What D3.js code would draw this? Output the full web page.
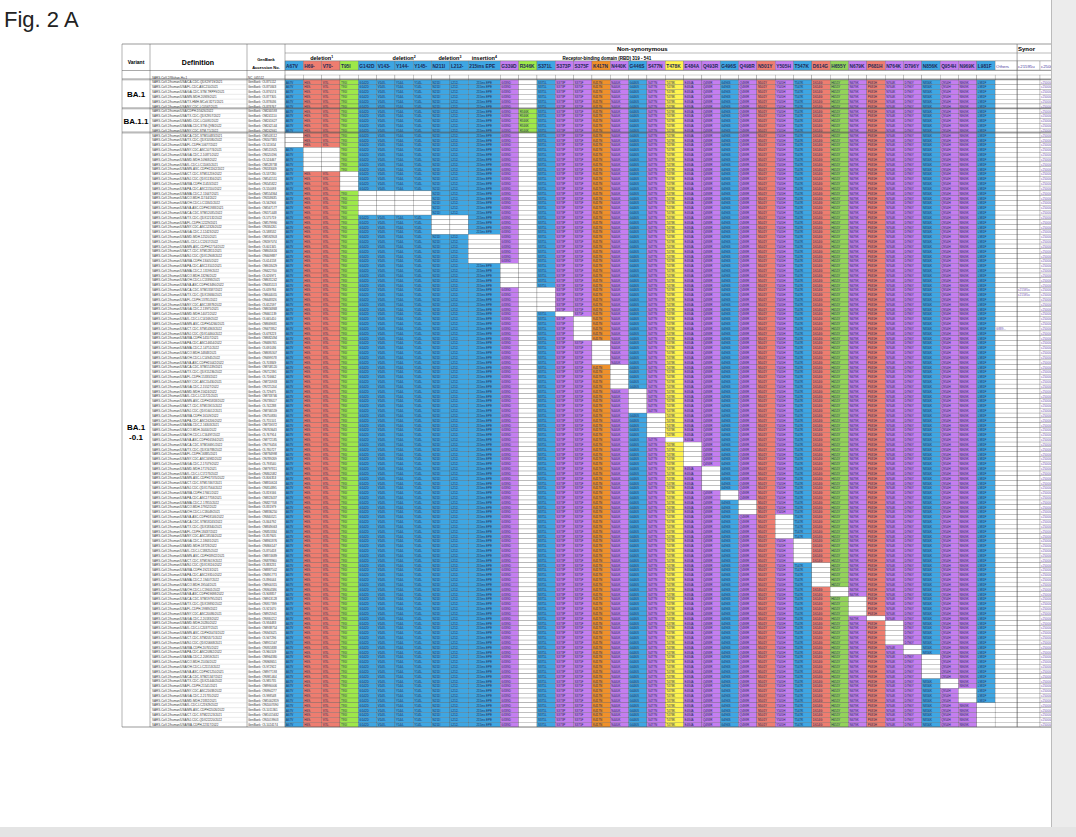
<!DOCTYPE html>
<html>
<head>
<meta charset="utf-8">
<script src="https://cdn.jsdelivr.net/npm/d3@7"></script>
<style>
  body { margin: 0; background: #fff; font-family: "Liberation Sans", Arial, sans-serif; }
</style>
</head>
<body>
<script>
const W = 1076, H = 837;

// mutation columns: name, header colour, width in units
const cols = [
  ["A67V", "#3ea6e3", 1], ["H69-", "#ee7d70", 1], ["V70-", "#ee7d70", 1], ["T95I", "#9ee84a", 1],
  ["G142D", "#3ea6e3", 1], ["V143-", "#3ea6e3", 1], ["Y144-", "#3ea6e3", 1], ["Y145-", "#3ea6e3", 1],
  ["N211I", "#3ea6e3", 1], ["L212-", "#3ea6e3", 1], ["215ins EPE", "#3ea6e3", 1.75],
  ["G339D", "#c47ef0", 1], ["R346K", "#9ee84a", 1], ["S371L", "#3ea6e3", 1], ["S373P", "#c47ef0", 1],
  ["S375F", "#c47ef0", 1], ["K417N", "#f0902a", 1], ["N440K", "#c47ef0", 1], ["G446S", "#3ea6e3", 1],
  ["S477N", "#c47ef0", 1], ["T478K", "#fff34f", 1], ["E484A", "#c47ef0", 1], ["Q493R", "#c47ef0", 1],
  ["G496S", "#3ea6e3", 1], ["Q498R", "#c47ef0", 1], ["N501Y", "#ee7d70", 1], ["Y505H", "#c47ef0", 1],
  ["T547K", "#3ea6e3", 1], ["D614G", "#ee7d70", 1], ["H655Y", "#93d35a", 1], ["N679K", "#c47ef0", 1],
  ["P681H", "#ee7d70", 1], ["N764K", "#c47ef0", 1], ["D796Y", "#c47ef0", 1], ["N856K", "#3ea6e3", 1],
  ["Q954H", "#c47ef0", 1], ["N969K", "#c47ef0", 1], ["L981F", "#3ea6e3", 1],
  ["Others", "#fff", 1.2], ["c21595u", "#fff", 1.25], ["c25000c", "#fff", 1.25]
];
const nMut = 38;

// staircase of missing mutations in BA.1-0.1 rows: [columns missing, number of rows]
const gaps = [
  [["A67V"], 3], [["H69-", "V70-"], 5], [["T95I"], 4], [["G142D", "V143-", "Y144-", "Y145-"], 5],
  [["N211I", "L212-"], 4], [["215ins EPE"], 6], [["G339D"], 5], [["S371L"], 5], [["S373P"], 1],
  [["S375F"], 5], [["K417N"], 5], [["N440K"], 5], [["G446S"], 5], [["S477N"], 5], [["T478K"], 1],
  [["E484A"], 5], [["Q493R"], 5], [["G496S"], 2], [["Q498R"], 3], [["Y505H"], 5], [["T547K"], 5],
  [["D614G"], 5], [["H655Y"], 2], [["N679K"], 4], [["P681H"], 1], [["N764K"], 5], [["D796Y"], 2],
  [["N856K"], 5], [["Q954H"], 2], [["N969K"], 3], [["L981F"], 5]
];

const states = ["CA", "TX", "FL", "NY", "GA", "MD", "IL", "MN", "CT", "NJ", "WA", "PA", "MA", "CO", "OH", "VA"];
const labs = ["CDC-STM", "CDC-ASC", "CDC-LC", "CDC-QDX", "CDC-2-", "ASC-CDPH", "CDPH-", "MDH-"];

const rows = [];
rows.push({ group: "ref", def: "SARS-CoV-2/Wuhan-Hu-1", acc: "NC_045512", miss: cols.slice(0, nMut).map(c => c[0]) });
const ba1 = ["CA-CDC-QDX29719", "FL-CDC-ASC210", "GA-CDC-STM-TRPF9", "MN-MDH-20939", "TX-HMH-MCoV-8271", "NY-CDC-LC0567"];
ba1.forEach((s, i) => rows.push({ group: "BA.1", def: "SARS-CoV-2/human/USA/" + s + "/2021", acc: "GenBank: OL8" + (75112 + i * 731), miss: ["R346K"] }));
const ba11 = ["CDPH-D5626", "TX-CDC-QDX2957", "MD-CDC-LC0091", "MA-CDC-STM-QVB", "NY-CDC-STM-T1"];
ba11.forEach((s, i) => rows.push({ group: "BA.1.1", def: "SARS-CoV-2/human/USA/" + s + "/2022", acc: "GenBank: OM2" + (40593 + i * 517), miss: [] }));
let k = 0;
gaps.forEach(([m, n]) => {
  for (let j = 0; j < n; j++, k++) {
    const st = states[k % states.length], lb = labs[(k * 3) % labs.length];
    rows.push({
      group: "BA.1-0.1",
      def: "SARS-CoV-2/human/USA/" + st + "-" + lb + (10483 + k * 97) + "/202" + (k % 3 === 0 ? 1 : 2),
      acc: "GenBank: O" + ["M", "N", "L"][k % 3] + (503112 + k * 4271),
      miss: ["R346K"].concat(m)
    });
  }
});
// extra entries seen in Others / synonymous columns
const extras = { 44: { "c21595u": "c21595u" }, 45: { "c21595u": "c21595u" }, 52: { "Others": "G889..." } };

const svg = d3.select("body").append("svg").attr("width", W).attr("height", H);

svg.append("text").attr("x", 4).attr("y", 27).attr("font-size", 22).attr("fill", "#222").text("Fig. 2 A");

svg.append("defs").append("clipPath").attr("id", "pageclip")
  .append("rect").attr("x", 0).attr("y", 0).attr("width", 1051).attr("height", H);

const g = svg.append("g").attr("clip-path", "url(#pageclip)");
const units = d3.cumsum(cols, c => c[2]);
const x = d3.scaleLinear().domain([0, 41.8]).range([285, 1051]);
const colX = c => x(units[c] - cols[c][2]);
const colW = c => x(units[c]) - x(units[c] - cols[c][2]);

const y = d3.scaleBand().domain(d3.range(rows.length)).range([75, 727]);
const rh = y.bandwidth();

// header
const hTop = 44;
g.append("line").attr("x1", 122).attr("x2", 1051).attr("y1", hTop).attr("y2", hTop).attr("stroke", "#555").attr("stroke-width", 0.6);
g.append("text").attr("x", 136).attr("y", 64).attr("text-anchor", "middle").attr("font-size", 5).attr("font-weight", "bold").text("Variant");
g.append("text").attr("x", 198).attr("y", 65).attr("text-anchor", "middle").attr("font-size", 7).attr("font-weight", "bold").text("Definition");
g.append("text").attr("x", 266).attr("y", 61).attr("text-anchor", "middle").attr("font-size", 4).attr("font-weight", "bold").text("GenBank");
g.append("text").attr("x", 266).attr("y", 69).attr("text-anchor", "middle").attr("font-size", 4).attr("font-weight", "bold").text("Accession No.");
g.append("text").attr("x", x(19.5)).attr("y", 51).attr("text-anchor", "middle").attr("font-size", 6).attr("font-weight", "bold").text("Non-synonymous");
g.append("text").attr("x", 1018).attr("y", 51).attr("font-size", 6).attr("font-weight", "bold").text("Synor");
g.append("line").attr("x1", 285).attr("x2", 1051).attr("y1", 53).attr("y2", 53).attr("stroke", "#777").attr("stroke-width", 0.5);
g.append("line").attr("x1", 285).attr("x2", 1051).attr("y1", 61).attr("y2", 61).attr("stroke", "#777").attr("stroke-width", 0.5);

const spans = [["deletion", "1", 1, 2], ["deletion", "2", 5, 7], ["deletion", "3", 8, 9], ["insertion", "4", 10, 10]];
spans.forEach(([t, sup, a, b]) => {
  const cx = (colX(a) + colX(b) + colW(b)) / 2;
  const tx = g.append("text").attr("x", cx).attr("y", 59.5).attr("text-anchor", "middle").attr("font-size", 5.5).attr("font-weight", "bold").text(t);
  tx.append("tspan").attr("font-size", 3.5).attr("dy", -2).text(sup);
});
g.append("text").attr("x", (colX(11) + colX(26) + colW(26)) / 2 - 40).attr("y", 59.5).attr("text-anchor", "middle")
  .attr("font-size", 4.5).attr("font-weight", "bold").text("Receptor-binding domain (RBD)  319 - 541");

cols.forEach((c, i) => {
  g.append("rect").attr("x", colX(i)).attr("y", 61).attr("width", colW(i)).attr("height", 9)
    .attr("fill", c[1]).attr("stroke", "#666").attr("stroke-width", 0.3);
  g.append("text").attr("x", colX(i) + 1).attr("y", 67.5).attr("font-size", i >= nMut ? 4.3 : 4.8).attr("font-weight", i >= nMut ? "normal" : "bold")
    .attr("fill", i >= nMut ? "#4a3aa0" : "#1d2a55").text(c[0]);
});

// body cells
rows.forEach((r, ri) => {
  const yy = y(ri);
  g.append("text").attr("x", 152).attr("y", yy + rh - 1.2).attr("font-size", 3).attr("fill", "#333").text(r.def);
  g.append("text").attr("x", 248).attr("y", yy + rh - 1.2).attr("font-size", 3).attr("fill", "#333").text(r.acc);
  g.append("line").attr("x1", 150).attr("x2", 1051).attr("y1", yy + rh).attr("y2", yy + rh).attr("stroke", "#bbb").attr("stroke-width", 0.3);
  cols.forEach((c, i) => {
    const name = c[0];
    let fill = "#fff", label = "";
    if (i < nMut) {
      if (!r.miss.includes(name)) { fill = c[1]; label = name; }
    } else if (name === "c25000c" && r.group !== "ref") { label = "c25000c"; }
    else if (extras[ri] && extras[ri][name]) { label = extras[ri][name]; }
    g.append("rect").attr("x", colX(i)).attr("y", yy).attr("width", colW(i)).attr("height", rh)
      .attr("fill", fill).attr("stroke", "#555").attr("stroke-width", 0.25);
    if (label) {
      g.append("text").attr("x", i === 10 ? colX(i) + colW(i) / 2 : colX(i) + 1).attr("y", yy + rh - 1)
        .attr("text-anchor", i === 10 ? "middle" : "start").attr("font-size", 3)
        .attr("fill", i >= nMut ? "#6a4ab0" : "#1d2a55").text(label);
    }
  });
});

// vertical structure lines
[122, 150, 247, 285].forEach(v => g.append("line").attr("x1", v).attr("x2", v).attr("y1", hTop).attr("y2", 727).attr("stroke", "#666").attr("stroke-width", 0.5));
g.append("line").attr("x1", colX(nMut + 1)).attr("x2", colX(nMut + 1)).attr("y1", hTop).attr("y2", 727).attr("stroke", "#666").attr("stroke-width", 0.6);
g.append("line").attr("x1", 122).attr("x2", 1051).attr("y1", 727).attr("y2", 727).attr("stroke", "#555").attr("stroke-width", 0.6);
g.append("line").attr("x1", 122).attr("x2", 1051).attr("y1", 70.5).attr("y2", 70.5).attr("stroke", "#555").attr("stroke-width", 0.5);

// variant groups with double separator lines
const groups = d3.groups(rows.map((r, i) => ({ g: r.group, i })), d => d.g);
groups.forEach(([name, items]) => {
  if (name === "ref") return;
  const a = y(items[0].i), b = y(items[items.length - 1].i) + rh;
  [a - 1, a].forEach(v => g.append("line").attr("x1", 122).attr("x2", 1051).attr("y1", v).attr("y2", v).attr("stroke", "#555").attr("stroke-width", 0.45));
  const mid = (a + b) / 2;
  if (name === "BA.1-0.1") {
    g.append("text").attr("x", 136).attr("y", mid).attr("text-anchor", "middle").attr("font-size", 8).attr("font-weight", "bold").text("BA.1");
    g.append("text").attr("x", 136).attr("y", mid + 10).attr("text-anchor", "middle").attr("font-size", 8).attr("font-weight", "bold").text("-0.1");
  } else {
    g.append("text").attr("x", 136).attr("y", mid + 3).attr("text-anchor", "middle").attr("font-size", 8).attr("font-weight", "bold").text(name);
  }
});

// page chrome
svg.append("rect").attr("x", 1052).attr("y", 0).attr("width", 24).attr("height", H).attr("fill", "#ececec");
svg.append("line").attr("x1", 1051.5).attr("x2", 1051.5).attr("y1", 0).attr("y2", H).attr("stroke", "#bbb");
svg.append("rect").attr("x", 0).attr("y", 827).attr("width", W).attr("height", 10).attr("fill", "#e4e4e4");
</script>
</body>
</html>
